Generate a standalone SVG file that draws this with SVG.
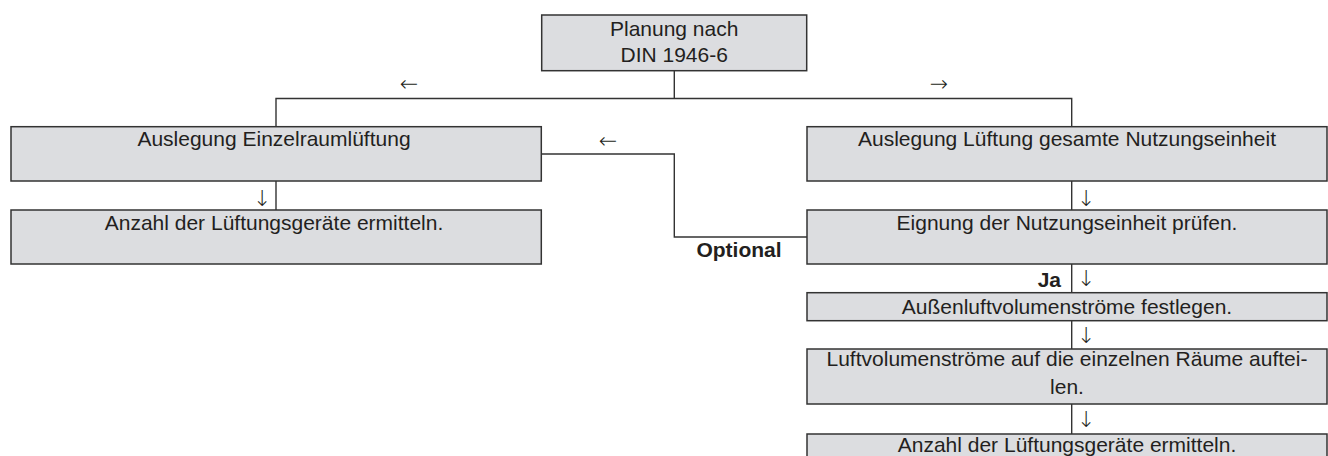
<svg xmlns="http://www.w3.org/2000/svg" width="1328" height="456" viewBox="0 0 1328 456">
<style>
.box{fill:#dcdde0;stroke:#333;stroke-width:1.5}
.t{font-family:"Liberation Sans",Arial,sans-serif;font-size:21px;fill:#231f20;text-anchor:middle}
.b{font-weight:bold}
.a{font-family:"DejaVu Sans",sans-serif;font-weight:200;font-size:22px;fill:#231f20;text-anchor:middle}
.ln{fill:none;stroke:#333;stroke-width:1.4}
</style>
<rect width="1328" height="456" fill="#fff"/>
<g id="connectors">
<polyline class="ln" points="276,126.7 276,98.5 1071.7,98.5 1071.7,126.7"/>
<line class="ln" x1="674.3" y1="70.7" x2="674.3" y2="98.5"/>
<line class="ln" x1="276" y1="181" x2="276" y2="210"/>
<polyline class="ln" points="541.3,154 674.3,154 674.3,237 807,237"/>
<line class="ln" x1="1071.7" y1="181" x2="1071.7" y2="210"/>
<line class="ln" x1="1071.7" y1="264" x2="1071.7" y2="292.7"/>
<line class="ln" x1="1071.7" y1="320.7" x2="1071.7" y2="349"/>
<line class="ln" x1="1071.7" y1="404" x2="1071.7" y2="434"/>
<text class="a" x="409" y="91">←</text>
<text class="a" x="939" y="91">→</text>
<text class="a" x="608" y="148">←</text>
<text class="a" x="262" y="206">↓</text>
<text class="a" x="1086" y="206">↓</text>
<text class="a" x="1086" y="286">↓</text>
<text class="a" x="1086" y="343">↓</text>
<text class="a" x="1086" y="427">↓</text>
<text class="t b" x="739" y="257">Optional</text>
<text class="t b" x="1061" y="287" style="text-anchor:end">Ja</text>
</g>
<g id="n_top">
<rect class="box" x="541.7" y="15" width="265" height="55.7"/>
<text class="t" x="674.2" y="35.5">Planung nach</text>
<text class="t" x="674.2" y="62">DIN 1946-6</text>
</g>
<g id="n_left1">
<rect class="box" x="11" y="126.7" width="530.3" height="54.3"/>
<text class="t" x="274" y="146">Auslegung Einzelraumlüftung</text>
</g>
<g id="n_left2">
<rect class="box" x="11" y="210" width="530.3" height="54"/>
<text class="t" x="274" y="230">Anzahl der Lüftungsgeräte ermitteln.</text>
</g>
<g id="n_right1">
<rect class="box" x="807" y="126.7" width="520" height="54.3"/>
<text class="t" x="1067" y="146">Auslegung Lüftung gesamte Nutzungseinheit</text>
</g>
<g id="n_right2">
<rect class="box" x="807" y="210" width="520" height="54"/>
<text class="t" x="1067" y="230">Eignung der Nutzungseinheit prüfen.</text>
</g>
<g id="n_right3">
<rect class="box" x="807" y="292.7" width="520" height="28"/>
<text class="t" x="1067" y="313.5">Außenluftvolumenströme festlegen.</text>
</g>
<g id="n_right4">
<rect class="box" x="807" y="349" width="520" height="55"/>
<text class="t" x="1067" y="366">Luftvolumenströme auf die einzelnen Räume auftei-</text>
<text class="t" x="1067" y="394">len.</text>
</g>
<g id="n_right5">
<rect class="box" x="807" y="434" width="520" height="30"/>
<text class="t" x="1067" y="452">Anzahl der Lüftungsgeräte ermitteln.</text>
</g>
</svg>
